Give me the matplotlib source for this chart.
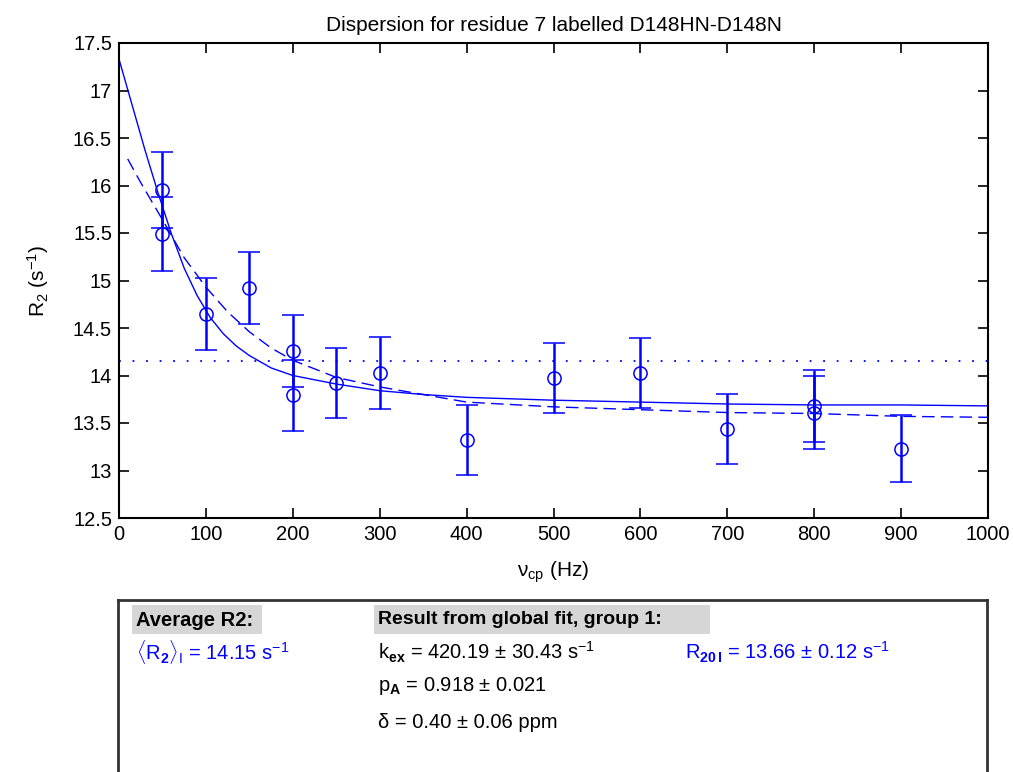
import matplotlib

matplotlib.use("Agg")
import matplotlib.pyplot as plt
from matplotlib.patches import Rectangle

plt.rcParams["font.family"] = ["Liberation Sans", "DejaVu Sans"]
plt.rcParams["mathtext.fontset"] = "custom"
plt.rcParams["mathtext.rm"] = "Liberation Sans"
plt.rcParams["mathtext.it"] = "Liberation Sans"
plt.rcParams["mathtext.bf"] = "Liberation Sans:bold"

BLUE = "#0000ff"

# measured points (two points at some frequencies)
nu_cp = [50, 50, 100, 150, 200, 200, 250, 300, 400, 500, 600, 700, 800, 800, 900]
r2_obs = [15.95, 15.49, 14.65, 14.92, 14.26, 13.79, 13.92, 14.03, 13.32,
          13.97, 14.03, 13.44, 13.68, 13.61, 13.23]
r2_err = [0.40, 0.39, 0.38, 0.38, 0.38, 0.37, 0.37, 0.38, 0.37,
          0.37, 0.37, 0.37, 0.38, 0.38, 0.35]

# global fit curve (solid)
fit_nu = [0, 15, 30, 45, 60, 75, 90, 105, 120, 135, 150, 175, 200, 250, 300,
          350, 400, 500, 600, 700, 800, 900, 1000]
fit_r2 = [17.33, 16.85, 16.37, 15.92, 15.50, 15.13, 14.84, 14.61, 14.44,
          14.31, 14.21, 14.08, 14.00, 13.91, 13.84, 13.80, 13.77, 13.74,
          13.72, 13.70, 13.69, 13.69, 13.68]

# second fit curve (dashed)
fit2_nu = [10, 25, 50, 75, 100, 125, 150, 175, 200, 250, 300, 400,
           500, 600, 700, 800, 900, 1000]
fit2_r2 = [16.28, 16.03, 15.64, 15.24, 14.93, 14.67, 14.46, 14.29, 14.16,
           13.98, 13.88, 13.72, 13.67, 13.64, 13.61, 13.60, 13.57, 13.56]

avg_r2 = 14.15

title = "Dispersion for residue 7 labelled D148HN-D148N"
x_ticks = [0, 100, 200, 300, 400, 500, 600, 700, 800, 900, 1000]
y_ticks = [12.5, 13, 13.5, 14, 14.5, 15, 15.5, 16, 16.5, 17, 17.5]

W, H = 1013, 772
fig = plt.figure(figsize=(W / 100, H / 100), dpi=100)
ax = fig.add_axes([119 / W, 1 - 518 / H, (988 - 119) / W, (518 - 43) / H])

ax.plot(fit_nu, fit_r2, "-", color=BLUE, linewidth=1.0)
ax.plot(fit2_nu, fit2_r2, "--", color=BLUE, linewidth=1.0, dashes=(9, 4.5))
ax.axhline(avg_r2, color=BLUE, linestyle=(0, (1, 6.5)), linewidth=1.3)
ax.errorbar(nu_cp, r2_obs, yerr=r2_err, fmt="o", color=BLUE, mfc="none",
            mec=BLUE, markersize=9.5, mew=1.1, elinewidth=1.8, capsize=8,
            capthick=1.8)

ax.set_xlim(0, 1000)
ax.set_ylim(12.5, 17.5)
ax.set_xticks(x_ticks)
ax.set_xticklabels([str(t) for t in x_ticks])
ax.set_yticks(y_ticks)
ax.set_yticklabels([f"{t:g}" for t in y_ticks])
ax.tick_params(direction="in", top=True, right=True, length=7, width=1.2,
               labelsize=14.5, pad=5)
for s in ax.spines.values():
    s.set_linewidth(1.5)
ax.set_title(title, fontsize=15, pad=9)
ax.set_xlabel(r"ν$_{\rm cp}$ (Hz)", fontsize=15, labelpad=11)
ax.set_ylabel(r"R$_2$ (s$^{-1}$)", fontsize=15, labelpad=16)

# results panel below the plot
pan = fig.add_axes([118 / W, 0, (987 - 118) / W, (H - 600) / H])
pan.set_xlim(118, 987)
pan.set_ylim(H, 600)
pan.set_xticks([])
pan.set_yticks([])
pan.spines["bottom"].set_visible(False)
for s in ("top", "left", "right"):
    pan.spines[s].set_linewidth(2)
    pan.spines[s].set_color("#333333")

fs = 14.5
pan.add_patch(Rectangle((132, 605), 130, 29, color="#d6d6d6", lw=0))
pan.add_patch(Rectangle((374, 605), 336, 29, color="#d6d6d6", lw=0))
pan.text(136, 620, "Average R2:", fontsize=fs, fontweight="bold", va="center")
pan.text(378, 620, "Result from global fit, group 1:", fontsize=fs - 0.5,
         fontweight="bold", va="center")
pan.text(136, 652, r"$\langle$R$_{\bf 2}\rangle_{\rm I}$ = 14.15 s$^{-1}$",
         fontsize=fs, color=BLUE, va="center")
pan.text(378, 652, r"k$_{\bf ex}$ = 420.19 ± 30.43 s$^{-1}$", fontsize=fs,
         va="center")
pan.text(378, 686, r"p$_{\bf A}$ = 0.918 ± 0.021", fontsize=fs, va="center")
pan.text(378, 723, "δ = 0.40 ± 0.06 ppm", fontsize=fs, va="center")
pan.text(685, 652, r"R$_{\bf 20\,I}$ = 13.66 ± 0.12 s$^{-1}$", fontsize=fs,
         color=BLUE, va="center")

fig.savefig("out.png", dpi=100)
